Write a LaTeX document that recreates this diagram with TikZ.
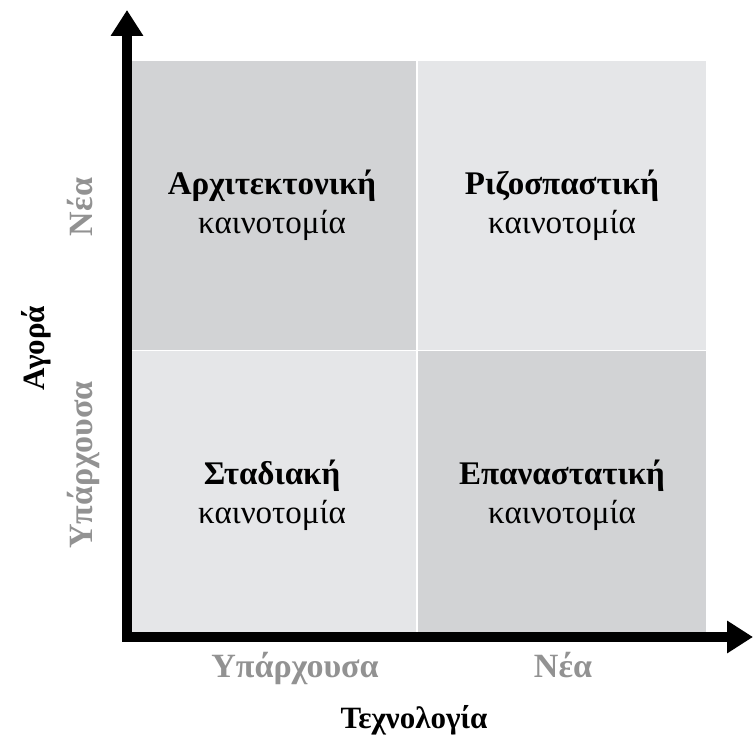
\documentclass[tikz,border=0pt]{standalone}
\usepackage{fontspec}
\setmainfont{Liberation Serif}
\usetikzlibrary{arrows.meta}
\definecolor{QuadDark}{RGB}{210,211,213}
\definecolor{QuadLight}{RGB}{229,230,232}
\definecolor{LabelGray}{RGB}{146,146,146}

\begin{document}
\begin{tikzpicture}[x=1pt, y=1pt,
          quad/.style={rectangle, minimum width=288pt, minimum height=289pt,
                       inner sep=0pt, align=center,
                       font=\fontsize{33}{39}\selectfont},
          level/.style={font=\fontsize{34}{40}\selectfont\bfseries,
                        text=LabelGray, anchor=base},
          axtitle/.style={font=\fontsize{31}{36}\selectfont\bfseries,
                          anchor=base},
          axisline/.style={line width=10pt,
                           {Triangle[length=26pt,width=31pt]}-{Triangle[length=26pt,width=31pt]}}
        ]
        \useasboundingbox (0,0) rectangle (753,755);
        % Quadrants
        \node[quad, fill=QuadDark]  (arch) at (272,549.5)
              {\textbf{Αρχιτεκτονική}\\καινοτομία};
        \node[quad, fill=QuadLight] (rad)  at (562,549.5)
              {\textbf{Ριζοσπαστική}\\καινοτομία};
        \node[quad, fill=QuadLight] (inc)  at (272,259.5)
              {\textbf{Σταδιακή}\\καινοτομία};
        \node[quad, fill=QuadDark]  (rev)  at (562,259.5)
              {\textbf{Επαναστατική}\\καινοτομία};

        % Axes
        \coordinate (origin) at (127,118);
        \coordinate (ytip)   at (127,745);
        \coordinate (xtip)   at (753,118);
        \draw[axisline] (ytip) -- (origin) -- (xtip);

        % Market axis labels
        \node[level, rotate=90] (mnew) at (92,548) {Νέα};
        \node[level, rotate=90] (mold) at (92,290) {Υπάρχουσα};
        \node[axtitle, rotate=90] (market) at (44,407) {Αγορά};

        % Technology axis labels
        \node[level] (told) at (295,77) {Υπάρχουσα};
        \node[level] (tnew) at (563,77) {Νέα};
        \node[axtitle] (tech) at (414,27) {Τεχνολογία};
      \end{tikzpicture}
\end{document}
